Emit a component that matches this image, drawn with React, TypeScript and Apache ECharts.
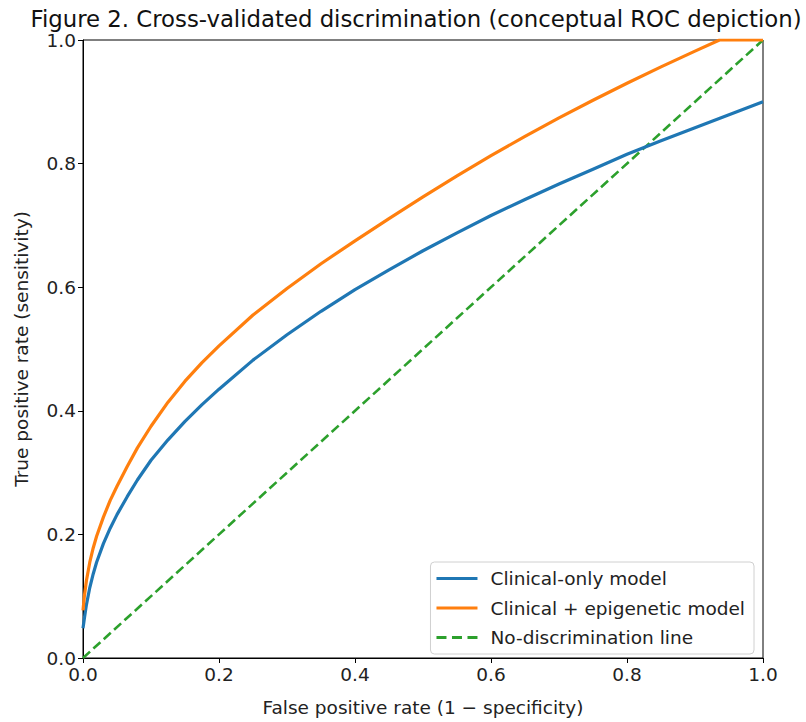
import React, { useEffect, useRef } from "react";
import * as echarts from "echarts";

const fprGrid = [0, 0.002, 0.005, 0.01, 0.015, 0.02, 0.03, 0.04, 0.05, 0.065, 0.08, 0.1, 0.125, 0.15, 0.175, 0.2, 0.25, 0.3, 0.35, 0.4, 0.45, 0.5, 0.55, 0.6, 0.65, 0.7, 0.75, 0.8, 0.85, 0.9, 0.95, 1.0];
const clinicalOnly = [0.048, 0.064, 0.086, 0.114, 0.136, 0.155, 0.185, 0.21, 0.232, 0.261, 0.288, 0.32, 0.353, 0.383, 0.41, 0.435, 0.482, 0.523, 0.561, 0.596, 0.628, 0.659, 0.688, 0.716, 0.742, 0.767, 0.791, 0.815, 0.837, 0.858, 0.879, 0.9];
const epiFpr = [0, 0.002, 0.005, 0.01, 0.015, 0.02, 0.03, 0.04, 0.05, 0.065, 0.08, 0.1, 0.125, 0.15, 0.175, 0.2, 0.25, 0.3, 0.35, 0.4, 0.45, 0.5, 0.55, 0.6, 0.65, 0.7, 0.75, 0.8, 0.85, 0.9, 0.936, 0.95, 1.0];
const clinicalEpigenetic = [0.077, 0.1, 0.125, 0.155, 0.178, 0.197, 0.228, 0.255, 0.278, 0.31, 0.34, 0.375, 0.414, 0.448, 0.478, 0.505, 0.555, 0.598, 0.638, 0.675, 0.711, 0.746, 0.78, 0.813, 0.844, 0.874, 0.9025, 0.93, 0.9565, 0.982, 1.0, 1.0, 1.0];
const diagFpr = [0, 1];
const diagTpr = [0, 1];
const seriesNames = ["Clinical-only model", "Clinical + epigenetic model", "No-discrimination line"];
const axisTicks = [0, 0.2, 0.4, 0.6, 0.8, 1.0];

const FONT = "DejaVu Sans";
const SOLID_ICON = "path://M0,0h41v3h-41z";
const DASH_ICON = "path://M0,0h10v3h-10z M15.5,0h10v3h-10z M31,0h10v3h-10z";

export default function App() {
  const ref = useRef<HTMLDivElement>(null);
  useEffect(() => {
    if (!ref.current) return;
    const chart = echarts.init(ref.current, undefined, { renderer: "svg" });
    const axisCommon = {
      type: "value" as const,
      min: axisTicks[0],
      max: axisTicks[axisTicks.length - 1],
      interval: 0.2,
      axisLine: { show: true, onZero: false, lineStyle: { color: "#000", width: 1 } },
      axisTick: { show: true, length: 5, lineStyle: { color: "#000" } },
      splitLine: { show: false },
      axisLabel: {
        color: "#222",
        fontSize: 18.5,
        fontFamily: FONT,
        margin: 7,
        formatter: (v: number) => v.toFixed(1),
      },
      nameLocation: "middle" as const,
      nameTextStyle: { color: "#222", fontSize: 18.5, fontFamily: FONT },
    };
    chart.setOption({
      animation: false,
      backgroundColor: "#fff",
      title: {
        text: "Figure 2. Cross-validated discrimination (conceptual ROC depiction)",
        left: 411,
        textAlign: "center",
        top: 2,
        textStyle: { fontFamily: FONT, fontSize: 22.8, fontWeight: "normal", color: "#111" },
      },
      grid: {
        left: 83,
        right: 43,
        top: 40,
        bottom: 59,
        show: true,
        borderColor: "#000",
        borderWidth: 1,
        backgroundColor: "transparent",
      },
      xAxis: {
        ...axisCommon,
        name: "False positive rate (1 \u2212 specificity)",
        nameGap: 40,
      },
      yAxis: {
        ...axisCommon,
        name: "True positive rate (sensitivity)",
        nameGap: 52,
      },
      legend: {
        right: 52,
        bottom: 68,
        orient: "vertical",
        itemWidth: 41,
        itemHeight: 3,
        itemGap: 10.5,
        padding: [7, 9, 7, 6],
        backgroundColor: "#fff",
        borderColor: "#d0d0d0",
        borderWidth: 1,
        borderRadius: 4,
        formatter: (name: string) => "{g| }{t|" + name + "}",
        textStyle: {
          fontFamily: FONT,
          fontSize: 18.5,
          color: "#222",
          rich: {
            g: { width: 8, fontSize: 18.5, fontFamily: FONT },
            t: { fontSize: 18.5, fontFamily: FONT, color: "#222" },
          },
        },
        data: [
          { name: seriesNames[0], icon: SOLID_ICON },
          { name: seriesNames[1], icon: SOLID_ICON },
          { name: seriesNames[2], icon: DASH_ICON },
        ],
      },
      series: [
        {
          name: seriesNames[0],
          type: "line",
          data: fprGrid.map((x, i) => [x, clinicalOnly[i]]),
          showSymbol: false,
          symbol: "none",
          smooth: false,
          lineStyle: { color: "#1f77b4", width: 3.2, join: "round" },
          itemStyle: { color: "#1f77b4" },
          z: 3,
        },
        {
          name: seriesNames[1],
          type: "line",
          data: epiFpr.map((x, i) => [x, clinicalEpigenetic[i]]),
          showSymbol: false,
          symbol: "none",
          smooth: false,
          lineStyle: { color: "#ff7f0e", width: 3.2, join: "round" },
          itemStyle: { color: "#ff7f0e" },
          z: 3,
        },
        {
          name: seriesNames[2],
          type: "line",
          data: diagFpr.map((x, i) => [x, diagTpr[i]]),
          showSymbol: false,
          symbol: "none",
          lineStyle: { color: "#2ca02c", width: 2.6, type: [9.5, 4.5] },
          itemStyle: { color: "#2ca02c" },
          z: 2,
        },
      ],
    });
    return () => chart.dispose();
  }, []);
  return (
    <div
      ref={ref}
      style={{ position: "fixed", left: 0, top: 0, width: 806, height: 722, background: "#fff" }}
    />
  );
}
